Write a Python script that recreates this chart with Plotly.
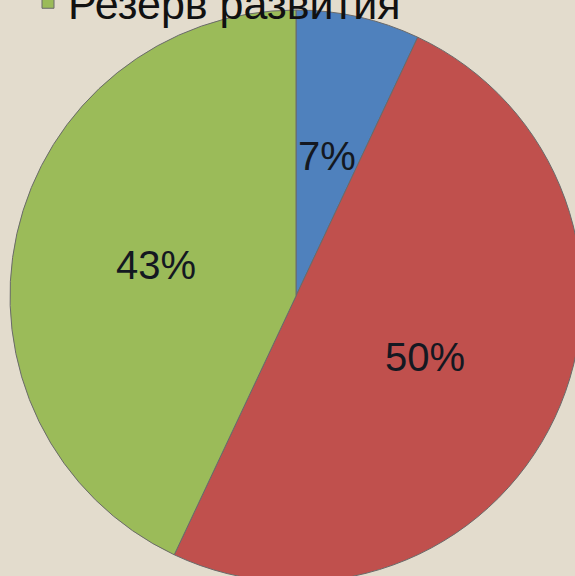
import math
import plotly.graph_objects as go

labels = ["Фонд оплаты труда", "Текущие расходы", "Резерв развития"]
values = [7, 50, 43]
colors = ["#4F81BD", "#C0504D", "#9BBB59"]

W, H = 590, 592
cx, cy_top, R = 296, 296, 286

x0, x1 = (cx - R) / W, (cx + R) / W
y0, y1 = (H - cy_top - R) / H, (H - cy_top + R) / H

fig = go.Figure(go.Pie(
    labels=labels,
    values=values,
    sort=False,
    direction="clockwise",
    rotation=0,
    marker=dict(colors=colors, line=dict(color="#6a6a6a", width=1)),
    textinfo="none",
    domain=dict(x=[x0, x1], y=[y0, y1]),
    hoverinfo="label+percent",
))

# percentage labels placed at half radius along each slice bisector
total = sum(values)
cum = 0
for v in values:
    mid = (cum + v / 2) / total * 2 * math.pi
    cum += v
    px = cx + 0.5 * R * math.sin(mid)
    py = cy_top - 0.5 * R * math.cos(mid)
    fig.add_annotation(
        x=px / W, y=1 - py / H, xref="paper", yref="paper",
        xanchor="center", yanchor="middle",
        text=f"{round(100 * v / total)}%", showarrow=False,
        font=dict(family="Liberation Sans", size=40, color="#141821"),
    )

fig.update_layout(
    width=W, height=H,
    margin=dict(l=0, r=0, t=0, b=0, autoexpand=False),
    paper_bgcolor="#e3dccd",
    plot_bgcolor="#e3dccd",
    showlegend=True,
    legend=dict(
        x=28 / W, xanchor="left",
        y=1 - 37 / H, yanchor="bottom",
        font=dict(family="Liberation Sans", size=43, color="#111111"),
        bgcolor="rgba(0,0,0,0)",
    ),
)

fig.write_html(
    "out.html",
    config={"displayModeBar": False},
    post_script="document.body.style.margin='0';document.body.style.overflow='hidden';document.documentElement.style.overflow='hidden';",
)
